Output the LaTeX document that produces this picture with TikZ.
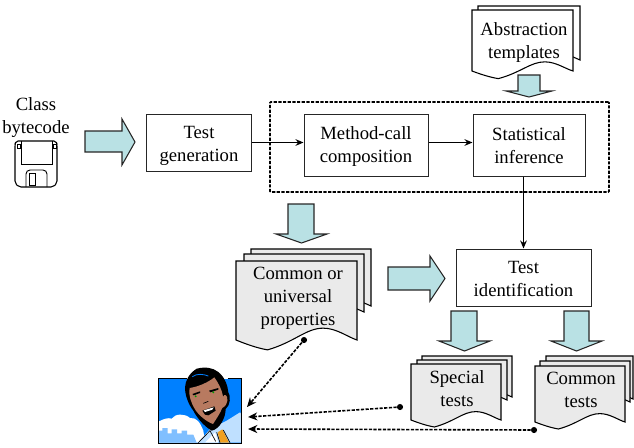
\documentclass[tikz,border=0pt]{standalone}
\usepackage{fontspec}
\setmainfont{Liberation Serif}
\usetikzlibrary{arrows.meta}
\definecolor{arrowfill}{HTML}{B9E1E4}
\definecolor{docgray}{HTML}{EAEAEA}
\definecolor{skyblue}{HTML}{0080FF}
\definecolor{skinc}{HTML}{B87A60}
\definecolor{shirtc}{HTML}{BFE0FF}
\definecolor{towerc}{HTML}{80BFFF}
\definecolor{tiec}{HTML}{F0A020}
\tikzset{
  label text/.style={font=\fontsize{14}{17.25}\selectfont,align=center,inner sep=0pt},
  procbox/.style={draw=black!85,line width=0.75pt,fill=white,inner sep=0pt,align=center,font=\fontsize{14}{17.25}\selectfont},
  groupbox/.style={draw=black,line width=1.2pt,dash pattern=on 2.4pt off 1.1pt,rounded corners=0.6pt,inner sep=0pt},
  blockarrow/.style={draw=black!85,line width=0.8pt,fill=arrowfill,line join=miter},
  pagefront/.style={draw=black,line width=0.8pt,line join=miter},
  flow/.style={draw=black,line width=1pt,-{Stealth[length=6pt,width=5pt]}},
  feedback/.style={draw=black,line width=1.2pt,dash pattern=on 2.4pt off 1.1pt,-{Stealth[length=7pt,width=6pt]}},
  dotnode/.style={circle,fill=black,inner sep=0pt,minimum size=4.6pt},
}
\newcommand{\ftop}[1]{\rule{0pt}{#1pt}}
% front page with wavy bottom: x0, x1, top, side bottom, fill
\newcommand{\pagewave}[5]{%
  \pgfmathsetmacro{\pw}{(#2-#1)*0.75}%
  \pgfmathsetmacro{\ph}{(#4-#3)*0.75}%
  \begin{scope}[shift={(#1,#3)},x=\pw pt,y=-\ph pt]
    \draw[pagefront,fill=#5] (0,0) -- (1,0) -- (1,1)
      .. controls (0.92,0.96) and (0.83,0.85) .. (0.72,0.85)
      .. controls (0.58,0.85) and (0.48,1.03) .. (0.26,1.125)
      .. controls (0.17,1.10) and (0.08,1.05) .. (0,1) -- cycle;
  \end{scope}}
% page behind: x0, x1, top, side bottom, fill
\newcommand{\pageback}[5]{%
  \draw[pagefront,fill=#5] (#1,#3) -- (#2,#3) -- (#2,#4) -- (#2-25,#4-11) -- (#1,#4-11) -- cycle;}
% block arrow pointing down
\newcommand{\blockdown}[7]{%
  \draw[blockarrow] (#1,#3) -- (#2,#3) -- (#2,#4) -- (#6,#4) -- ({(#5+#6)/2},#7) -- (#5,#4) -- (#1,#4) -- cycle;}
% block arrow pointing right
\newcommand{\blockright}[7]{%
  \draw[blockarrow] (#1,#4) -- (#2,#4) -- (#2,#6) -- (#3,{(#6+#7)/2}) -- (#2,#7) -- (#2,#5) -- (#1,#5) -- cycle;}
\begin{document}
\begin{tikzpicture}[x=0.75pt,y=-0.75pt]
\useasboundingbox (0,0) rectangle (634,447);

% group frame
\node[groupbox,minimum width=254.25pt,minimum height=67.5pt] (group) at (439.5,147) {};

% processing boxes
\node[procbox,minimum width=79.1pt,minimum height=42.75pt] (tg) at (199,142.5) {\ftop{14}Test\\generation};
\node[procbox,minimum width=93pt,minimum height=46.5pt] (mc) at (366,145) {\ftop{12.5}Method-call\\composition};
\node[procbox,minimum width=84pt,minimum height=46.5pt] (si) at (529,145) {\ftop{10.5}Statistical\\inference};
\node[procbox,minimum width=101.25pt,minimum height=42.75pt] (ti) at (523.5,277.5) {\ftop{11.5}Test\\identification};

% connectors
\draw[flow] (tg.east) -- (mc.west |- tg.east);
\draw[flow] (mc.east |- tg.east) -- (si.west |- tg.east);
\draw[flow] (ti.north |- si.south) -- (ti.north);

% class bytecode
\node[label text] (cb) at (36,117.5) {Class\\bytecode};
\blockright{85}{122}{135}{131}{152}{119}{165}

% floppy disk
\draw[line width=0.8pt,fill=white,rounded corners=1.5pt] (16,141) -- (56,141) -- (57,144) -- (57,183) -- (53,187) -- (19,187) -- (15,183) -- (15,144) -- cycle;
\draw[line width=0.7pt] (21,141) -- (21,164) -- (52,164) -- (52,141);
\draw[line width=0.5pt,fill=white] (17,144) rectangle (20,148);
\draw[line width=0.5pt,fill=white] (53,144) rectangle (56,148);
\draw[line width=0.7pt,rounded corners=3pt] (26,187) -- (26,170) -- (47,170) -- (47,187);
\draw[line width=0.6pt] (29,173) rectangle (35,185);

% abstraction templates
\pageback{478}{580}{6}{60}{white}
\pagewave{472}{573}{10}{71}{white}
\node[label text] (at) at (524,42.5) {Abstraction\\templates};
\blockdown{518}{540}{75}{91}{506}{552}{97}

% common properties
\blockdown{288}{314}{204}{234}{276}{327}{243}
\pageback{251}{371}{249}{306}{docgray}
\pageback{244}{364}{254}{312}{docgray}
\pagewave{236}{357}{261}{340}{docgray}
\node[label text] (cp) at (298,298) {Common or\\universal\\properties};
\blockright{388}{430}{445}{267}{290}{256}{301}

% special tests
\blockdown{451}{477}{311}{341}{439}{490}{351}
\pageback{422}{512}{356}{397}{docgray}
\pageback{417}{507}{360}{400}{docgray}
\pagewave{411}{501}{364}{420}{docgray}
\node[label text] (st) at (457,388.5) {Special\\tests};

% common tests
\blockdown{564}{589}{311}{341}{551}{602}{351}
\pageback{546}{633}{356}{399}{docgray}
\pageback{540}{630}{361}{402}{docgray}
\pagewave{535}{625}{366}{422}{docgray}
\node[label text] (ct) at (581,389.5) {Common\\tests};

% person clipart
\begin{scope}[shift={(155,364)},x=0.25pt,y=-0.25pt]
  \fill[skyblue] (10,44) rectangle (260,238);
  \fill[white] (12,236) -- (12,172) .. controls (25,165) and (40,160) .. (50,164)
     .. controls (60,148) and (90,148) .. (105,162) .. controls (125,160) and (135,175) .. (145,200) -- (150,236) -- cycle;
  \fill[towerc] (12,236) -- (12,200) -- (22,200) -- (22,192) -- (38,192) -- (38,208) -- (50,208) -- (50,196) -- (66,196) -- (66,208) -- (80,208) -- (80,200) -- (96,200) -- (96,212) -- (115,212) -- (125,236) -- cycle;
  \fill[shirtc] (130,236) -- (165,195) -- (215,170) -- (255,145) -- (259,150) -- (259,236) -- cycle;
  \fill[white] (150,236) -- (180,205) -- (190,236) -- cycle;
  \fill[tiec] (188,205) -- (202,196) -- (222,236) -- (196,236) -- cycle;
  \draw[black,line width=0.5pt] (130,236) -- (165,200) -- (182,232);
  \draw[black,line width=0.5pt] (185,205) -- (195,236);
  \draw[black,line width=0.5pt] (205,198) -- (225,236);
  \fill[black] (90,70) .. controls (92,50) and (100,30) .. (125,14) .. controls (150,8) and (172,10) .. (190,24)
     .. controls (210,40) and (218,65) .. (220,85) .. controls (228,95) and (226,125) .. (212,135)
     .. controls (212,160) and (195,195) .. (170,200) .. controls (145,185) and (125,160) .. (115,140)
     .. controls (100,120) and (90,95) .. (90,70) -- cycle;
  \fill[skinc] (104,72) .. controls (130,68) and (160,55) .. (178,40) .. controls (192,60) and (200,75) .. (204,98)
     .. controls (208,88) and (219,93) .. (217,110) .. controls (214,125) and (207,130) .. (202,132)
     .. controls (194,150) and (184,165) .. (174,180) .. controls (152,172) and (130,152) .. (120,136)
     .. controls (108,115) and (100,95) .. (104,72) -- cycle;
  \draw[skyblue,line width=0.6pt] (112,38) .. controls (125,28) and (145,30) .. (160,36);
  \fill[black] (112,90) -- (135,82) -- (135,87) -- (116,94) -- cycle;
  \fill[black] (162,80) -- (190,72) -- (190,77) -- (166,85) -- cycle;
  \fill[green!60!black] (122,97) circle (0.8pt);
  \fill[green!60!black] (175,85) circle (0.8pt);
  \draw[black,line width=0.5pt] (145,118) -- (160,112);
  \fill[black] (142,140) -- (178,127) -- (182,140) -- (160,154) -- (150,152) -- cycle;
  \fill[white] (146,139) -- (176,130) -- (172,137) -- (150,144) -- cycle;
  \draw[black,line width=0.9pt] (10,44) -- (97,44);
  \draw[black,line width=0.9pt] (218,44) -- (260,44) -- (260,238) -- (10,238) -- (10,44);
\end{scope}

% feedback connectors
\coordinate (fa) at (247,407);
\coordinate (fb) at (248,417);
\coordinate (fc) at (248,429);
\node[dotnode] (d1) at (304,340) {};
\node[dotnode] (d2) at (400,407) {};
\node[dotnode] (d3) at (534,430) {};
\draw[feedback] (d1) -- (fa);
\draw[feedback] (d2) -- (fb);
\draw[feedback] (d3) -- (fc);
\end{tikzpicture}
\end{document}
